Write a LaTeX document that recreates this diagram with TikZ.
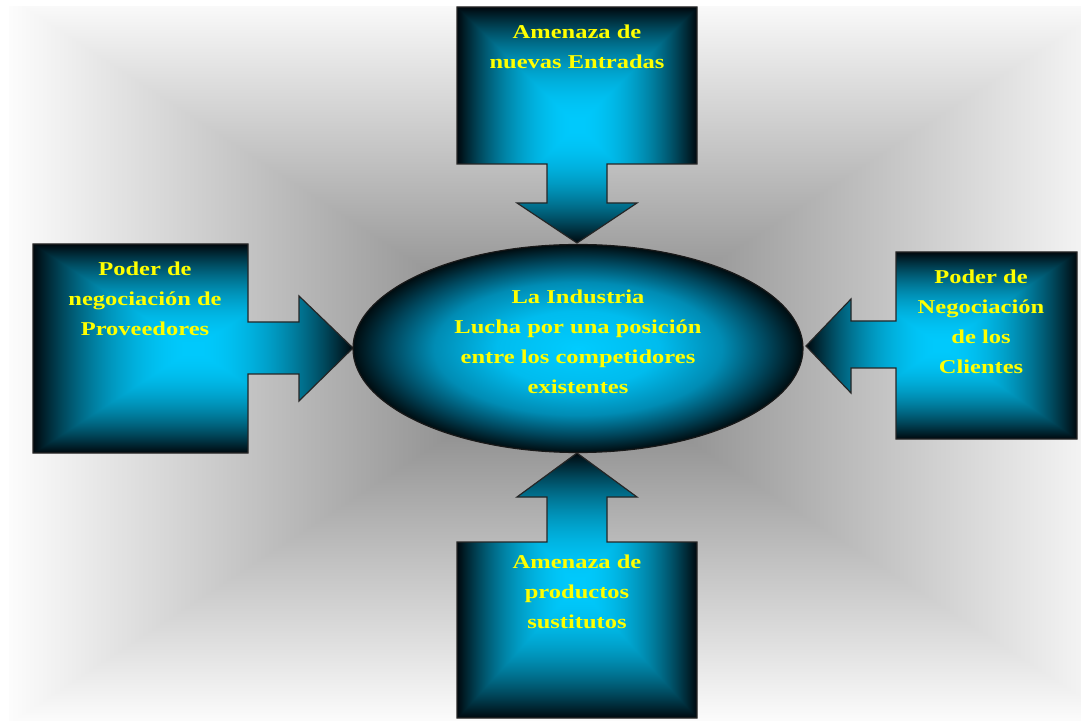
\documentclass[tikz,border=0pt]{standalone}
\usepackage{fontspec}
\usetikzlibrary{shapes.geometric}
\newfontfamily\labfont{Liberation Serif}[FakeStretch=1.25]
\definecolor{labyellow}{RGB}{255,255,0}
\definecolor{eA}{RGB}{0,204,255}
\definecolor{eB}{RGB}{0,188,238}
\definecolor{eC}{RGB}{0,140,180}
\definecolor{eD}{RGB}{0,70,92}
\definecolor{eE}{RGB}{0,12,16}
\pgfdeclarefunctionalshading{boxglow}{\pgfpointorigin}{\pgfpoint{100bp}{100bp}}{}{
 50 sub abs 25 div exch 50 sub abs 25 div
 2 copy lt {exch} if pop
 dup 1 gt {pop 1} if
 dup mul 1 exch sub
 dup 0.76 mul 0.03 add
 exch 0.94 mul 0.05 add
 0 3 1 roll
}
\pgfdeclarefunctionalshading{bgglow}{\pgfpointorigin}{\pgfpoint{100bp}{100bp}}{}{
 50 sub abs 25 div exch 50 sub abs 25 div
 2 copy lt {exch} if pop
 dup 1 gt {pop 1} if
 0.52 mul 0.47 add dup dup
}
\pgfdeclareradialshading{eglow}{\pgfpoint{0bp}{0bp}}{color(0bp)=(eA); color(9bp)=(eB); color(16bp)=(eC); color(21bp)=(eD); color(25bp)=(eE); color(50bp)=(eE)}
\tikzset{
  callout/.style={draw=black!85, line width=0.6pt, line join=miter,
    path picture={\shade[shading=boxglow] (path picture bounding box.south west) rectangle (path picture bounding box.north east);}},
  lab/.style={anchor=north, inner sep=0pt, align=center, text=labyellow,
    font=\labfont\bfseries\fontsize{9.8}{15}\selectfont}
}
\begin{document}
\begin{tikzpicture}[x=0.5pt,y=-0.5pt]
\useasboundingbox (0,0) rectangle (1081,721);
\fill[white] (0,0) rectangle (1081,721);
% background
\begin{scope}
\clip (9,7) rectangle (1081,721);
\shade[shading=bgglow] (9,-3) rectangle (1121,723);
\end{scope}
% callouts
\path[callout] (457,7) -- (697,7) -- (697,164) -- (607,164) -- (607,203) -- (637,203) -- (577,243) -- (517,203) -- (547,203) -- (547,164) -- (457,164) -- cycle;
\path[callout] (33,244) -- (248,244) -- (248,322) -- (299,322) -- (299,296) -- (353,348) -- (299,401) -- (299,374) -- (248,374) -- (248,453) -- (33,453) -- cycle;
\path[callout] (1077,252) -- (1077,439) -- (896,439) -- (896,368) -- (851,368) -- (851,393) -- (806,346) -- (851,299) -- (851,321) -- (896,321) -- (896,252) -- cycle;
\path[callout] (457,718) -- (697,718) -- (697,542) -- (607,542) -- (607,497) -- (637,497) -- (577,453) -- (517,497) -- (547,497) -- (547,542) -- (457,542) -- cycle;
% center ellipse
\node[ellipse, draw=black!90, line width=0.6pt, shade, shading=eglow, minimum width=225pt, minimum height=104pt, inner sep=0pt] (ind) at (578,348.5) {};
% labels
\node[lab] (tnew) at (577,17) {\strut Amenaza de\\ nuevas Entradas};
\node[lab] (tprov) at (145,254) {\strut Poder de\\ negociación de\\ Proveedores};
\node[lab] (tcli) at (981,262) {\strut Poder de\\ Negociación\\ de los\\ Clientes};
\node[lab] (tsus) at (577,547) {\strut Amenaza de\\ productos\\ sustitutos};
\node[lab] (tind) at (578,282) {\strut La Industria\\ Lucha por una posición\\ entre los competidores\\ existentes};
\end{tikzpicture}
\end{document}
